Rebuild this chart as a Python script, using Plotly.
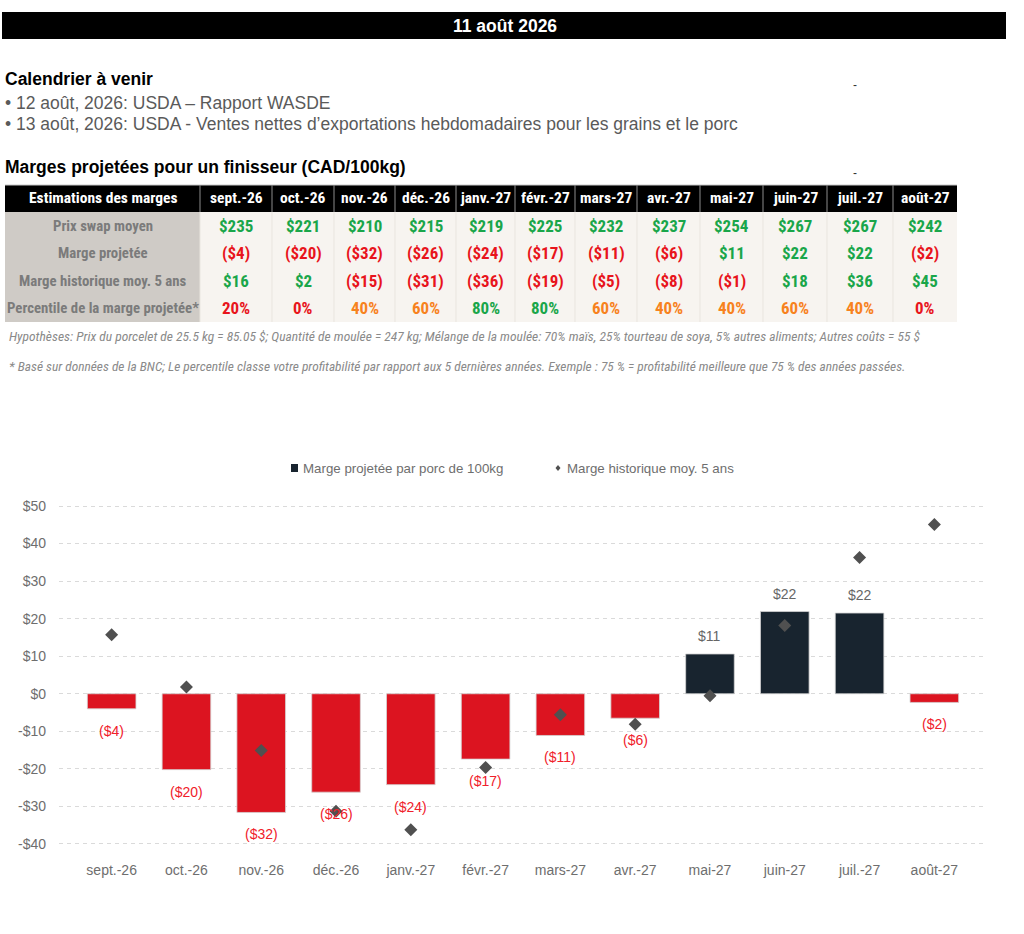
import plotly.graph_objects as go

# ---------------- data ----------------
months = ["sept.-26", "oct.-26", "nov.-26", "déc.-26", "janv.-27", "févr.-27",
          "mars-27", "avr.-27", "mai-27", "juin-27", "juil.-27", "août-27"]
swap_price = [235, 221, 210, 215, 219, 225, 232, 237, 254, 267, 267, 242]
marge_proj = [-4, -20, -32, -26, -24, -17, -11, -6, 11, 22, 22, -2]
marge_hist = [16, 2, -15, -31, -36, -19, -5, -8, -1, 18, 36, 45]
percentile = [20, 0, 40, 60, 80, 80, 60, 40, 40, 60, 40, 0]
# values
bar_proj = [-4.0, -20.2, -31.6, -26.2, -24.2, -17.4, -11.1, -6.5, 10.6, 21.9, 21.5, -2.3]
pt_hist = [15.7, 1.8, -15.1, -31.3, -36.2, -19.6, -5.6, -8.1, -0.5, 18.2, 36.3, 45.1]
table_title = "Estimations des marges"
row_labels = ["Prix swap moyen", "Marge projetée", "Marge historique moy. 5 ans",
              "Percentile de la marge projetée*"]
y_ticks = [50, 40, 30, 20, 10, 0, -10, -20, -30, -40]

# ---------------- layout constants (pixels) ----------------
W, H = 1024, 934
def xp(px): return px / W
def yp(px): return 1 - px / H

COL_EDGES = [5, 200, 272, 334, 395, 456, 515, 575, 637, 700, 763, 827, 893, 957]
ROW_EDGES = [185, 212, 239.5, 267, 294.5, 322]

RED = "#e8141c"
GREEN = "#1aa64a"
ORANGE = "#f7821e"
BAR_RED = "#dc1420"
BAR_DARK = "#18242f"
COND = "Roboto Condensed, DejaVu Sans Condensed, sans-serif"
SANS = "Liberation Sans, Arial, sans-serif"

def money(v):
    return f"(${abs(v)})" if v < 0 else f"${v}"

def pct_color(p):
    if p <= 20:
        return RED
    if p <= 60:
        return ORANGE
    return GREEN

fig = go.Figure()

# ---------------- chart ----------------
fig.add_trace(go.Bar(
    x=months, y=bar_proj,
    marker=dict(color=[BAR_RED if v < 0 else BAR_DARK for v in bar_proj],
                line=dict(color="#d4d4d4", width=0.8)),
    width=0.65, name="Marge projetée par porc de 100kg", showlegend=False,
    hoverinfo="skip",
))
fig.add_trace(go.Scatter(
    x=months, y=pt_hist, mode="markers",
    marker=dict(symbol="diamond", size=10, color="#505050"),
    name="Marge historique moy. 5 ans", showlegend=False,
))

annotations = []
shapes = []
for m, v, lab in zip(months, bar_proj, marge_proj):
    annotations.append(dict(
        x=m, y=v, xref="x", yref="y", text=money(lab), showarrow=False,
        yshift=-22 if v < 0 else 18,
        font=dict(family=SANS, size=14, color="#f0202a" if v < 0 else "#666666"),
    ))

# ---------------- table (shapes + text) ----------------
def cell_text(c, r, text, color, size):
    annotations.append(dict(
        x=xp((COL_EDGES[c] + COL_EDGES[c + 1]) / 2),
        y=yp((ROW_EDGES[r] + ROW_EDGES[r + 1]) / 2),
        xref="paper", yref="paper", text=f"<b>{text}</b>", showarrow=False,
        xanchor="center", yanchor="middle",
        font=dict(family=COND, size=size, color=color)))

# backgrounds
shapes.append(dict(type="rect", xref="paper", yref="paper",
                   x0=xp(COL_EDGES[0]), x1=xp(COL_EDGES[-1]), y0=yp(ROW_EDGES[1]), y1=yp(ROW_EDGES[0]),
                   fillcolor="black", line=dict(width=0), layer="below"))
shapes.append(dict(type="rect", xref="paper", yref="paper",
                   x0=xp(COL_EDGES[0]), x1=xp(COL_EDGES[1]), y0=yp(ROW_EDGES[-1]), y1=yp(ROW_EDGES[1]),
                   fillcolor="#cfcbc6", line=dict(width=0), layer="below"))
shapes.append(dict(type="rect", xref="paper", yref="paper",
                   x0=xp(COL_EDGES[1]), x1=xp(COL_EDGES[-1]), y0=yp(ROW_EDGES[-1]), y1=yp(ROW_EDGES[1]),
                   fillcolor="#f7f4f0", line=dict(width=0), layer="below"))
shapes.append(dict(type="line", xref="paper", yref="paper",
                   x0=xp(COL_EDGES[0]), x1=xp(COL_EDGES[-1]), y0=yp(ROW_EDGES[0]), y1=yp(ROW_EDGES[0]),
                   line=dict(color="#c8c8c8", width=1)))
# separators
for c in range(1, len(COL_EDGES) - 1):
    shapes.append(dict(type="line", xref="paper", yref="paper",
                       x0=xp(COL_EDGES[c]), x1=xp(COL_EDGES[c]),
                       y0=yp(ROW_EDGES[1]), y1=yp(ROW_EDGES[0]),
                       line=dict(color="#8c8c8c", width=1)))
    shapes.append(dict(type="line", xref="paper", yref="paper",
                       x0=xp(COL_EDGES[c]), x1=xp(COL_EDGES[c]),
                       y0=yp(ROW_EDGES[-1]), y1=yp(ROW_EDGES[1]),
                       line=dict(color="#e9e5df", width=1)))

cell_text(0, 0, table_title, "white", 15.5)
for i, m in enumerate(months):
    cell_text(i + 1, 0, m, "white", 15.5)
for r, lab in enumerate(row_labels):
    cell_text(0, r + 1, lab, "#7b7b7b", 14.8)
for i in range(len(months)):
    cell_text(i + 1, 1, f"${swap_price[i]}", GREEN, 17)
    cell_text(i + 1, 2, money(marge_proj[i]), RED if marge_proj[i] < 0 else GREEN, 17)
    cell_text(i + 1, 3, money(marge_hist[i]), RED if marge_hist[i] < 0 else GREEN, 17)
    cell_text(i + 1, 4, f"{percentile[i]}%", pct_color(percentile[i]), 17)

# ---------------- page texts ----------------
annotations += [
    dict(x=xp(505), y=yp(26), xref="paper", yref="paper", text="<b>11 août 2026</b>",
         showarrow=False, font=dict(family=SANS, size=17.5, color="white"),
         xanchor="center", yanchor="middle"),
    dict(x=xp(3), y=yp(79), xref="paper", yref="paper", text="<b>Calendrier à venir</b>",
         showarrow=False, font=dict(family=SANS, size=17.5, color="black"),
         xanchor="left", yanchor="middle"),
    dict(x=xp(3), y=yp(103), xref="paper", yref="paper",
         text="• 12 août, 2026: USDA – Rapport WASDE",
         showarrow=False, font=dict(family=SANS, size=17.5, color="#5a5a5a"),
         xanchor="left", yanchor="middle"),
    dict(x=xp(3), y=yp(124), xref="paper", yref="paper",
         text="• 13 août, 2026: USDA - Ventes nettes d’exportations hebdomadaires pour les grains et le porc",
         showarrow=False, font=dict(family=SANS, size=17.5, color="#5a5a5a"),
         xanchor="left", yanchor="middle"),
    dict(x=xp(3), y=yp(167), xref="paper", yref="paper",
         text="<b>Marges projetées pour un finisseur (CAD/100kg)</b>",
         showarrow=False, font=dict(family=SANS, size=17.5, color="black"),
         xanchor="left", yanchor="middle"),
    dict(x=xp(855), y=yp(85), xref="paper", yref="paper", text="-",
         showarrow=False, font=dict(family=SANS, size=12, color="#333333"),
         xanchor="center", yanchor="middle"),
    dict(x=xp(855), y=yp(173), xref="paper", yref="paper", text="-",
         showarrow=False, font=dict(family=SANS, size=12, color="#333333"),
         xanchor="center", yanchor="middle"),
    dict(x=xp(7), y=yp(336), xref="paper", yref="paper",
         text="<i>Hypothèses: Prix du porcelet de 25.5 kg = 85.05 $; Quantité de moulée = 247 kg; "
              "Mélange de la moulée: 70% maïs, 25% tourteau de soya, 5% autres aliments; Autres coûts = 55 $</i>",
         showarrow=False, font=dict(family=COND, size=13.5, color="#8a8a8a"),
         xanchor="left", yanchor="middle"),
    dict(x=xp(7), y=yp(366), xref="paper", yref="paper",
         text="<i>* Basé sur données de la BNC; Le percentile classe votre profitabilité par rapport aux "
              "5 dernières années. Exemple : 75 % = profitabilité meilleure que 75 % des années passées.</i>",
         showarrow=False, font=dict(family=COND, size=13.4, color="#8a8a8a"),
         xanchor="left", yanchor="middle"),
    # legend texts
    dict(x=xp(301), y=yp(468), xref="paper", yref="paper",
         text="Marge projetée par porc de 100kg", showarrow=False,
         font=dict(family=SANS, size=13.3, color="#6e6e6e"), xanchor="left", yanchor="middle"),
    dict(x=xp(565), y=yp(468), xref="paper", yref="paper",
         text="Marge historique moy. 5 ans", showarrow=False,
         font=dict(family=SANS, size=13.3, color="#6e6e6e"), xanchor="left", yanchor="middle"),
]

shapes += [
    dict(type="rect", xref="paper", yref="paper", x0=xp(2), x1=xp(1006), y0=yp(39), y1=yp(12),
         fillcolor="black", line=dict(width=0), layer="below"),
    dict(type="rect", xref="paper", yref="paper", x0=xp(291), x1=xp(298), y0=yp(472), y1=yp(464),
         fillcolor=BAR_DARK, line=dict(width=0)),
    dict(type="path", xref="paper", yref="paper",
         path=f"M {xp(558)},{yp(465)} L {xp(560.5)},{yp(468)} L {xp(558)},{yp(471)} L {xp(555.5)},{yp(468)} Z",
         fillcolor="#505050", line=dict(width=0)),
]

fig.update_layout(
    width=W, height=H,
    margin=dict(l=0, r=0, t=0, b=0),
    paper_bgcolor="white", plot_bgcolor="white",
    showlegend=False,
    bargap=0.35,
    xaxis=dict(domain=[xp(59), xp(987)], showgrid=False, showline=False, zeroline=False,
               ticks="", tickfont=dict(family=SANS, size=14, color="#6e6e6e"),
               ticklabelstandoff=8, fixedrange=True),
    yaxis=dict(domain=[yp(851.5), yp(498.5)], range=[-42, 52],
               tickvals=y_ticks,
               ticktext=[("-$" + str(-v)) if v < 0 else ("$" + str(v)) for v in y_ticks],
               showgrid=True, gridcolor="#dadada", griddash="4px,4px", gridwidth=1,
               zeroline=False, showline=False, ticks="",
               tickfont=dict(family=SANS, size=14, color="#6e6e6e"),
               ticklabelstandoff=12, fixedrange=True),
    annotations=annotations,
    shapes=shapes,
)

fig.write_html("out.html", config={"displayModeBar": False},
               post_script="document.body.style.margin='0';document.body.style.overflow='hidden';")
